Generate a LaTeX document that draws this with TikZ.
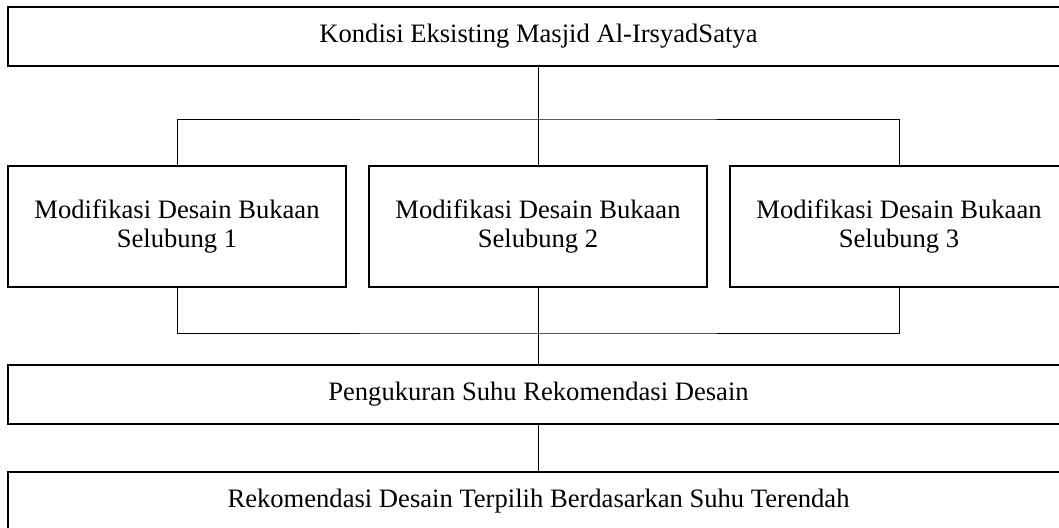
\documentclass[tikz,border=0pt]{standalone}
\usepackage{fontspec}
\setmainfont{Liberation Serif}
\begin{document}
\begin{tikzpicture}[x=1pt,y=-1pt,
  box/.style={draw, line width=1.8pt, inner sep=0pt, align=center,
    font=\fontsize{26.6}{29}\selectfont},
  widebox/.style={box, minimum width=1061pt, minimum height=59pt},
  midbox/.style={box, minimum width=338pt, minimum height=121pt},
  link/.style={line width=1pt}]
\useasboundingbox (0,0) rectangle (1059,527);
\clip (0,0) rectangle (1059,527);
\fill[white] (0,0) rectangle (1059,527);
\node[widebox] (top) at (538.5,36.5) {Kondisi Eksisting Masjid Al-IrsyadSatya};
\node[midbox] (b1) at (177,226.5) {Modifikasi Desain Bukaan\\Selubung 1};
\node[midbox] (b2) at (538,226.5) {Modifikasi Desain Bukaan\\Selubung 2};
\node[midbox] (b3) at (899,226.5) {Modifikasi Desain Bukaan\\Selubung 3};
\node[widebox] (pk) at (538.5,394.5) {Pengukuran Suhu Rekomendasi Desain};
\node[widebox] (rk) at (538.5,501.5) {Rekomendasi Desain Terpilih Berdasarkan Suhu Terendah};
\coordinate (jt) at (538,119);
\coordinate (jb) at (538,333);
\draw[link] (top.south -| jt) -- (b2.north);
\draw[link] (b1.north) |- (jt) -| (b3.north);
\draw[link] (b1.south) |- (jb) -| (b3.south);
\draw[link] (b2.south) -- (pk.north -| b2.south);
\draw[link] (pk.south -| jt) -- (rk.north -| jt);
\end{tikzpicture}
\end{document}
